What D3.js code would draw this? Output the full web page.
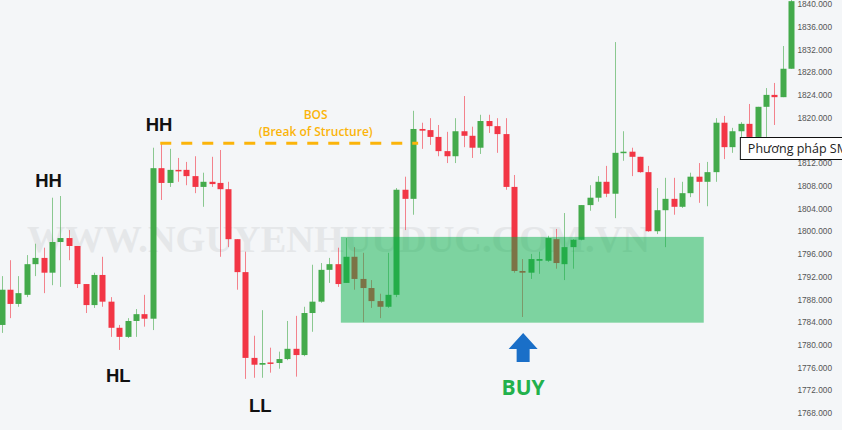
<!DOCTYPE html>
<html>
<head>
<meta charset="utf-8">
<script src="https://cdn.jsdelivr.net/npm/d3@7"></script>
<style>
  html, body { margin: 0; padding: 0; background: #f4f6f8; }
  svg { display: block; }
</style>
</head>
<body>
<svg id="chart" width="842" height="430"></svg>
<script>
// ---------- DATA ----------
const opens  = [1783.5,1789.7,1787.2,1788.8,1794.2,1795.3,1792.7,1798.1,1798.8,1797.4,
                1790.7,1787.0,1792.3,1787.6,1783.0,1781.4,1784.2,1785.4,1784.6,1811.1,
                1808.5,1810.8,1810.8,1809.7,1807.8,1808.7,1808.5,1807.4,1798.6,1792.8,
                1777.7,1776.5,1776.9,1776.8,1777.5,1779.3,1778.2,1785.6,1787.6,1793.2,
                1794.2,1790.9,1795.5,1791.6,1790.0,1787.7,1786.7,1788.8,1807.3,1805.7,
                1818.0,1817.8,1816.6,1814.1,1813.2,1817.6,1816.8,1814.7,1819.4,1818.5,
                1817.1,1807.8,1793.0,1792.7,1794.8,1794.8,1798.6,1794.2,1797.2,1798.5,
                1804.6,1805.9,1808.7,1806.6,1813.8,1814.0,1813.1,1810.4,1800.0,1803.7,
                1805.7,1804.3,1806.7,1809.6,1808.7,1810.4,1819.1,1814.8,1817.6,1818.9,
                1816.6,1821.9,1824.0,1823.6,1828.6];
const highs  = [1792.1,1794.9,1792.1,1795.8,1797.8,1797.1,1805.9,1806.2,1800.2,1797.4,
                1790.7,1792.7,1795.5,1788.4,1783.5,1784.7,1786.3,1788.8,1814.7,1815.7,
                1814.5,1812.9,1812.2,1813.2,1810.3,1813.1,1814.3,1808.7,1798.6,1796.4,
                1781.6,1786.1,1779.5,1778.8,1784.2,1785.1,1786.7,1794.1,1794.4,1795.3,
                1797.1,1798.8,1797.2,1796.2,1791.4,1789.0,1796.2,1807.6,1809.6,1821.2,
                1819.1,1819.9,1818.7,1817.5,1819.9,1823.8,1818.4,1820.5,1820.5,1819.9,
                1819.9,1809.9,1795.1,1796.0,1796.4,1799.2,1800.4,1803.2,1798.6,1804.6,
                1808.1,1809.7,1811.5,1833.3,1817.6,1814.7,1813.1,1811.5,1807.6,1809.4,
                1809.4,1808.7,1810.3,1812.0,1812.2,1819.9,1820.3,1818.2,1819.2,1822.4,
                1821.9,1825.2,1826.1,1832.6,1840.7];
const lows   = [1782.1,1784.7,1786.7,1788.4,1792.1,1789.1,1790.5,1790.2,1794.9,1790.0,
                1785.6,1786.5,1786.7,1781.4,1779.1,1781.2,1781.4,1783.2,1782.6,1805.5,
                1807.8,1808.7,1808.1,1806.7,1804.3,1807.8,1795.5,1797.2,1789.7,1774.0,
                1774.2,1774.2,1775.1,1775.8,1777.3,1774.4,1778.0,1782.3,1787.4,1790.9,
                1790.2,1790.9,1789.7,1784.0,1786.5,1784.7,1786.5,1788.4,1800.2,1802.9,
                1814.5,1815.2,1813.2,1812.0,1812.0,1814.8,1812.9,1813.6,1817.3,1813.8,
                1807.3,1792.7,1784.9,1791.6,1792.5,1794.6,1793.4,1791.4,1793.4,1798.4,
                1803.6,1805.2,1806.0,1802.3,1812.4,1809.7,1810.3,1799.9,1799.5,1797.2,
                1802.9,1804.1,1806.0,1805.0,1804.4,1808.7,1812.7,1813.8,1815.7,1815.0,
                1815.0,1816.6,1818.7,1823.6,1828.6];
const closes = [1789.7,1787.2,1789.1,1794.2,1795.3,1792.7,1798.1,1798.8,1797.4,1790.7,
                1787.0,1792.3,1787.6,1783.0,1781.4,1784.2,1785.4,1784.6,1811.1,1808.5,
                1810.8,1810.6,1809.7,1807.8,1808.7,1808.3,1807.4,1798.6,1792.8,1777.7,
                1776.5,1776.8,1776.7,1777.5,1779.3,1778.2,1785.6,1787.6,1793.2,1794.2,
                1790.7,1795.5,1791.6,1790.0,1787.7,1786.7,1788.8,1807.3,1805.7,1818.0,
                1817.7,1816.6,1814.1,1813.2,1817.6,1816.8,1814.7,1819.4,1818.5,1817.1,
                1807.8,1793.0,1792.7,1795.1,1795.1,1798.8,1794.4,1797.2,1798.5,1804.6,
                1805.9,1808.7,1806.6,1813.8,1814.0,1813.1,1810.4,1800.0,1803.7,1805.7,
                1804.3,1806.7,1809.6,1808.7,1810.4,1819.1,1814.8,1817.6,1818.9,1816.6,
                1821.9,1824.0,1823.6,1828.6,1840.5];

// visible price labels (1816 sits under the tooltip in the reference)
const priceTicks = [1768,1772,1776,1780,1784,1788,1792,1796,1800,1804,1808,1812,
                    1820,1824,1828,1832,1836,1840];

// demand zone (candle index range, price range)
const zoneIdx   = [40.4, 83.6];
const zonePrice = [1783.9, 1799.0];

// Break of structure line
const bosIdx   = [18.9, 49.6];
const bosPrice = 1815.5;

// structure labels: text, candle index, price (baseline)
const labelTexts  = ["HH", "HH", "HL", "LL"];
const labelIdx    = [5.6, 18.75, 13.9, 30.8];
const labelPrice  = [1807.8, 1817.6, 1773.5, 1768.2];

const bosTexts = ["BOS", "(Break of Structure)"];
const bosTextIdx = 37.4;
const bosTextPrice = [1819.8, 1816.7];

const buyText = "BUY";
const buyIdx = 62.1;
const buyPrice = 1771.2;
const arrowPrice = [1782.1, 1777.0]; // tip, base

const tooltipText = "Phương pháp SMC";
const tooltipIdx = 87.9;
const tooltipPrice = [1816.6, 1812.7];

const watermark = "WWW.NGUYENHUUDUC.COM.VN";

// ---------- CHART ----------
const W = 842, H = 430;
const svg = d3.select("#chart");
svg.append("rect").attr("width", W).attr("height", H).attr("fill", "#f4f6f8");

const x = d3.scaleLinear().domain([0, opens.length - 1]).range([1.5, 791.1]);
const y = d3.scaleLinear().domain([1768, 1840]).range([413, 4]);

const candles = opens.map((o, i) => ({ i, o, h: highs[i], l: lows[i], c: closes[i] }));

// watermark
svg.append("text")
  .attr("x", 27).attr("y", 252)
  .attr("textLength", 623).attr("lengthAdjust", "spacingAndGlyphs")
  .attr("font-family", "'Liberation Serif', 'DejaVu Serif', serif")
  .attr("font-weight", "bold").attr("font-size", 37)
  .attr("fill", "#e5e7e9")
  .text(watermark);

// axis
const axis = d3.axisLeft(y).tickValues(priceTicks).tickSize(0).tickPadding(0)
  .tickFormat(d3.format(".3f"));
const gAxis = svg.append("g").attr("transform", "translate(832,0)").call(axis);
gAxis.select(".domain").remove();
gAxis.selectAll("text")
  .attr("fill", "#555").attr("font-size", 8.3)
  .attr("font-family", "'Liberation Sans', Arial, sans-serif");

const GREEN = "#43aa4b", RED = "#f23645";
const gC = svg.append("g");
gC.selectAll("line.wick").data(candles).join("line")
  .attr("class", "wick")
  .attr("x1", d => Math.round(x(d.i)) + 0.5).attr("x2", d => Math.round(x(d.i)) + 0.5)
  .attr("y1", d => y(d.h)).attr("y2", d => y(d.l))
  .attr("stroke", d => d.c >= d.o ? GREEN : RED)
  .attr("stroke-opacity", 0.6).attr("stroke-width", 1);
gC.selectAll("rect.body").data(candles).join("rect")
  .attr("class", "body")
  .attr("x", d => Math.round(x(d.i)) - 2.5).attr("width", 6)
  .attr("y", d => y(Math.max(d.o, d.c)))
  .attr("height", d => Math.max(1.5, Math.abs(y(d.o) - y(d.c))))
  .attr("fill", d => d.c >= d.o ? GREEN : RED);

// zone overlay
svg.append("rect")
  .attr("x", x(zoneIdx[0])).attr("width", x(zoneIdx[1]) - x(zoneIdx[0]))
  .attr("y", y(zonePrice[1])).attr("height", y(zonePrice[0]) - y(zonePrice[1]))
  .attr("fill", "rgb(5,176,72)").attr("fill-opacity", 0.5);

// BOS dashed line
svg.append("line")
  .attr("x1", x(bosIdx[0])).attr("x2", x(bosIdx[1]))
  .attr("y1", y(bosPrice)).attr("y2", y(bosPrice))
  .attr("stroke", "#fbb40a").attr("stroke-width", 3)
  .attr("stroke-dasharray", "11,10");

svg.selectAll("text.bos").data(bosTexts).join("text")
  .attr("class", "bos")
  .attr("x", x(bosTextIdx)).attr("y", (d, k) => y(bosTextPrice[k]))
  .attr("text-anchor", "middle")
  .attr("font-family", "'Open Sans', 'Noto Sans', sans-serif")
  .attr("font-weight", 600)
  .attr("font-size", 12).attr("fill", "#fbb40a")
  .text(d => d);

// structure labels
svg.selectAll("text.lbl").data(labelTexts).join("text")
  .attr("class", "lbl")
  .attr("x", (d, k) => x(labelIdx[k])).attr("y", (d, k) => y(labelPrice[k]))
  .attr("text-anchor", "middle")
  .attr("font-family", "'Liberation Sans', Arial, sans-serif")
  .attr("font-weight", "bold").attr("font-size", 18.5).attr("fill", "#111")
  .text(d => d);

// buy arrow
const ax = x(buyIdx), yt = y(arrowPrice[0]), yb = y(arrowPrice[1]);
const headH = 16;
svg.append("path")
  .attr("d", `M${ax},${yt} L${ax + 14.5},${yt + headH} L${ax + 6.5},${yt + headH} L${ax + 6.5},${yb} L${ax - 6.5},${yb} L${ax - 6.5},${yt + headH} L${ax - 14.5},${yt + headH} Z`)
  .attr("fill", "#1a6fc8");

svg.append("text")
  .attr("x", ax).attr("y", y(buyPrice))
  .attr("text-anchor", "middle")
  .attr("font-family", "'Open Sans', 'Liberation Sans', sans-serif")
  .attr("font-weight", "bold").attr("font-size", 21).attr("fill", "#22b14c")
  .text(buyText);

// tooltip box
const tx = x(tooltipIdx), ty0 = y(tooltipPrice[0]), ty1 = y(tooltipPrice[1]);
svg.append("rect")
  .attr("x", tx + 0.5).attr("y", Math.round(ty0) + 0.5)
  .attr("width", 120).attr("height", Math.round(ty1 - ty0))
  .attr("fill", "#fff").attr("stroke", "#111").attr("stroke-width", 1);
svg.append("text")
  .attr("x", tx + 8).attr("y", (ty0 + ty1) / 2 + 4.5)
  .attr("font-family", "'Open Sans', 'Noto Sans', sans-serif")
  .attr("font-size", 12.5).attr("fill", "#222")
  .text(tooltipText);
</script>
</body>
</html>
